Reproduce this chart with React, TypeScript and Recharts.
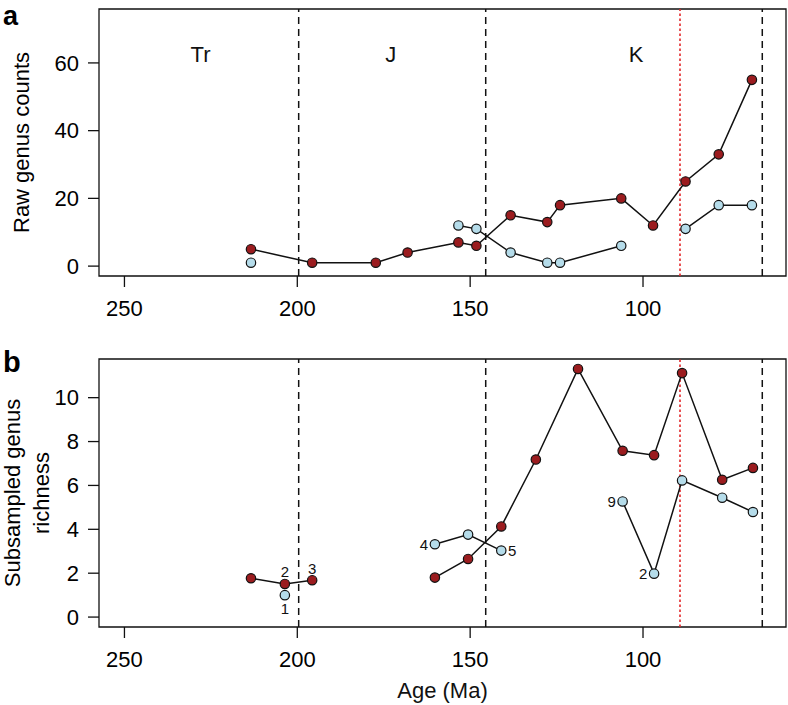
import { LineChart, Line, XAxis, YAxis, ReferenceLine, ReferenceArea, ReferenceDot } from 'recharts'

// panel a: raw genus counts
const rawAge = [213.4, 195.7, 177.3, 168.1, 153.4, 148.2, 138.3, 127.7, 124, 106.3, 97.1, 87.7, 78.1, 68.5]
const rawRed = [5, 1, 1, 4, 7, 6, 15, 13, 18, 20, 12, 25, 33, 55]
const rawBlue = [1, null, null, null, 12, 11, 4, 1, 1, 6, null, 11, 18, 18]

// panel b: subsampled richness, split in two runs (Tr-J and J-K)
const subAgeTr = [213.4, 203.6, 195.7]
const subRedTr = [1.77, 1.51, 1.68]
const subBlueTr = [null, 1.0, null]
const subRedTrN = ['', '2', '3']
const subBlueTrN = ['', '1', '']

const subAgeJK = [160.2, 150.6, 141, 131, 118.8, 105.9, 96.8, 88.7, 77.1, 68.2]
const subRedJK = [1.8, 2.65, 4.13, 7.18, 11.31, 7.58, 7.38, 11.12, 6.26, 6.8]
const subBlueJK = [3.32, 3.76, 3.03, null, null, 5.27, 1.98, 6.23, 5.44, 4.79]
const subBlueJKN = ['4', '', '5', '', '', '9', '2', '', '', '']

const periodNames = ['Tr', 'J', 'K']
const periodAges = [228, 173, 102]
const boundaries = [199.6, 145.5, 65.5]
const redBoundary = 89.3

const xTicks = [250, 200, 150, 100]
const rawTicks = [0, 20, 40, 60]
const subTicks = [0, 2, 4, 6, 8, 10]

const FONT = '"Liberation Sans", Arial, Helvetica, sans-serif'
const RED = '#9b1c1f'
const BLUE = '#b5dcea'
const AGE_DOMAIN: [number, number] = [58.64, 257.36]
const RAW_DOMAIN: [number, number] = [-2.92, 75.92]
const SUB_DOMAIN: [number, number] = [-0.4525, 11.7625]

const rawData = rawAge.map((age, i) => ({ age, red: rawRed[i], blue: rawBlue[i] }))
const redTr = subAgeTr.map((age, i) => ({ age, v: subRedTr[i] }))
const blueTr = subAgeTr.map((age, i) => ({ age, v: subBlueTr[i] }))
const redJK = subAgeJK.map((age, i) => ({ age, v: subRedJK[i] }))
const blueJK = subAgeJK.map((age, i) => ({ age, v: subBlueJK[i] }))

const offsets: Record<string, [number, number]> = {
  top: [0, -12],
  bottom: [0, 13],
  left: [-11, 0],
  right: [11, 0],
}

function makeDot(fill: string, labels?: string[], sides?: string[]) {
  return (props: any) => {
    const { cx, cy, index } = props
    if (cx == null || cy == null || Number.isNaN(cy)) return <g key={`d${index}`} />
    const label = labels ? labels[index] : ''
    const side = sides ? sides[index] : 'top'
    const [dx, dy] = offsets[side] || [0, 0]
    return (
      <g key={`d${index}`}>
        <circle cx={cx} cy={cy} r={4.7} fill={fill} stroke="#111" strokeWidth={1.2} />
        {label ? (
          <text x={cx + dx} y={cy + dy} textAnchor="middle" dominantBaseline="central" fontSize={15} fontFamily={FONT} fill="#111">
            {label}
          </text>
        ) : null}
      </g>
    )
  }
}

const yLabel = (lines: string[], xs: number[]) => (props: any) => {
  const vb = props.viewBox
  const cy = vb.y + vb.height / 2
  return (
    <g>
      {lines.map((t, i) => (
        <text key={i} x={xs[i]} y={cy} transform={`rotate(-90 ${xs[i]} ${cy})`} textAnchor="middle" fontSize={22} fontFamily={FONT} fill="#000">
          {t}
        </text>
      ))}
    </g>
  )
}

const tickStyle = { fill: '#000', fontSize: 22, fontFamily: FONT }

export default function App() {
  const blueJKSides = ['left', '', 'right', '', '', 'left', 'left', '', '', '']
  const frame = (yDomain: [number, number]) => (
    <ReferenceArea x1={AGE_DOMAIN[0]} x2={AGE_DOMAIN[1]} y1={yDomain[0]} y2={yDomain[1]} fill="none" stroke="#111" strokeWidth={1.3} ifOverflow="visible" />
  )
  const bounds = [
    ...boundaries.map((b) => <ReferenceLine key={b} x={b} stroke="#111" strokeWidth={1.5} strokeDasharray="7 5" />),
    <ReferenceLine key="red" x={redBoundary} stroke="#e3262a" strokeWidth={1.6} strokeDasharray="2.5 2.5" />,
  ]

  return (
    <div style={{ position: 'absolute', left: 0, top: 0, width: 788, height: 705, background: '#fff', fontFamily: FONT }}>
      <div style={{ position: 'absolute', left: 3, top: 3, fontSize: 27, lineHeight: '27px', fontWeight: 'bold' }}>a</div>
      <div style={{ position: 'absolute', left: 3, top: 350, fontSize: 29, lineHeight: '24px', fontWeight: 'bold' }}>b</div>

      <div style={{ position: 'absolute', left: 0, top: 0 }}>
        <LineChart width={788} height={330} data={rawData} margin={{ top: 9, right: 2, bottom: 0, left: 0 }}>
          <XAxis
            dataKey="age"
            type="number"
            domain={[AGE_DOMAIN[0], AGE_DOMAIN[1]]}
            reversed
            allowDataOverflow
            ticks={xTicks}
            axisLine={false}
            tickSize={11}
            tickMargin={13}
            tickLine={{ stroke: '#111', strokeWidth: 1.3 }}
            tick={tickStyle}
            height={54}
          />
          <YAxis
            type="number"
            domain={RAW_DOMAIN}
            allowDataOverflow
            ticks={rawTicks}
            axisLine={false}
            tickSize={11}
            tickMargin={9}
            tickLine={{ stroke: '#111', strokeWidth: 1.3 }}
            tick={tickStyle}
            width={99}
            label={{ content: yLabel(['Raw genus counts'], [29]) }}
          />
          {frame(RAW_DOMAIN)}
          {bounds}
          {periodNames.map((p, i) => (
            <ReferenceDot
              key={p}
              x={periodAges[i]}
              y={62.5}
              r={0}
              fill="none"
              stroke="none"
              label={{ value: p, position: 'center', fill: '#111', fontSize: 22, fontFamily: FONT }}
            />
          ))}
          <Line dataKey="blue" stroke="#111" strokeWidth={1.5} dot={makeDot(BLUE)} activeDot={false} isAnimationActive={false} connectNulls={false} />
          <Line dataKey="red" stroke="#111" strokeWidth={1.5} dot={makeDot(RED)} activeDot={false} isAnimationActive={false} connectNulls={false} />
        </LineChart>
      </div>

      <div style={{ position: 'absolute', left: 0, top: 330 }}>
        <LineChart width={788} height={375} margin={{ top: 29, right: 2, bottom: 0, left: 0 }}>
          <XAxis
            dataKey="age"
            type="number"
            domain={[AGE_DOMAIN[0], AGE_DOMAIN[1]]}
            reversed
            allowDataOverflow
            ticks={xTicks}
            axisLine={false}
            tickSize={11}
            tickMargin={13}
            tickLine={{ stroke: '#111', strokeWidth: 1.3 }}
            tick={tickStyle}
            height={78}
            label={{ value: 'Age (Ma)', position: 'insideBottom', offset: 7, fill: '#111', fontSize: 22, fontFamily: FONT }}
          />
          <YAxis
            type="number"
            domain={SUB_DOMAIN}
            allowDataOverflow
            ticks={subTicks}
            axisLine={false}
            tickSize={11}
            tickMargin={9}
            tickLine={{ stroke: '#111', strokeWidth: 1.3 }}
            tick={tickStyle}
            width={99}
            label={{ content: yLabel(['Subsampled genus', 'richness'], [20, 49]) }}
          />
          {frame(SUB_DOMAIN)}
          {bounds}
          <Line data={blueTr} dataKey="v" stroke="#111" strokeWidth={1.5} dot={makeDot(BLUE, subBlueTrN, ['', 'bottom', ''])} activeDot={false} isAnimationActive={false} />
          <Line data={redTr} dataKey="v" stroke="#111" strokeWidth={1.5} dot={makeDot(RED, subRedTrN, ['', 'top', 'top'])} activeDot={false} isAnimationActive={false} />
          <Line data={blueJK} dataKey="v" stroke="#111" strokeWidth={1.5} dot={makeDot(BLUE, subBlueJKN, blueJKSides)} activeDot={false} isAnimationActive={false} />
          <Line data={redJK} dataKey="v" stroke="#111" strokeWidth={1.5} dot={makeDot(RED)} activeDot={false} isAnimationActive={false} />
        </LineChart>
      </div>
    </div>
  )
}
